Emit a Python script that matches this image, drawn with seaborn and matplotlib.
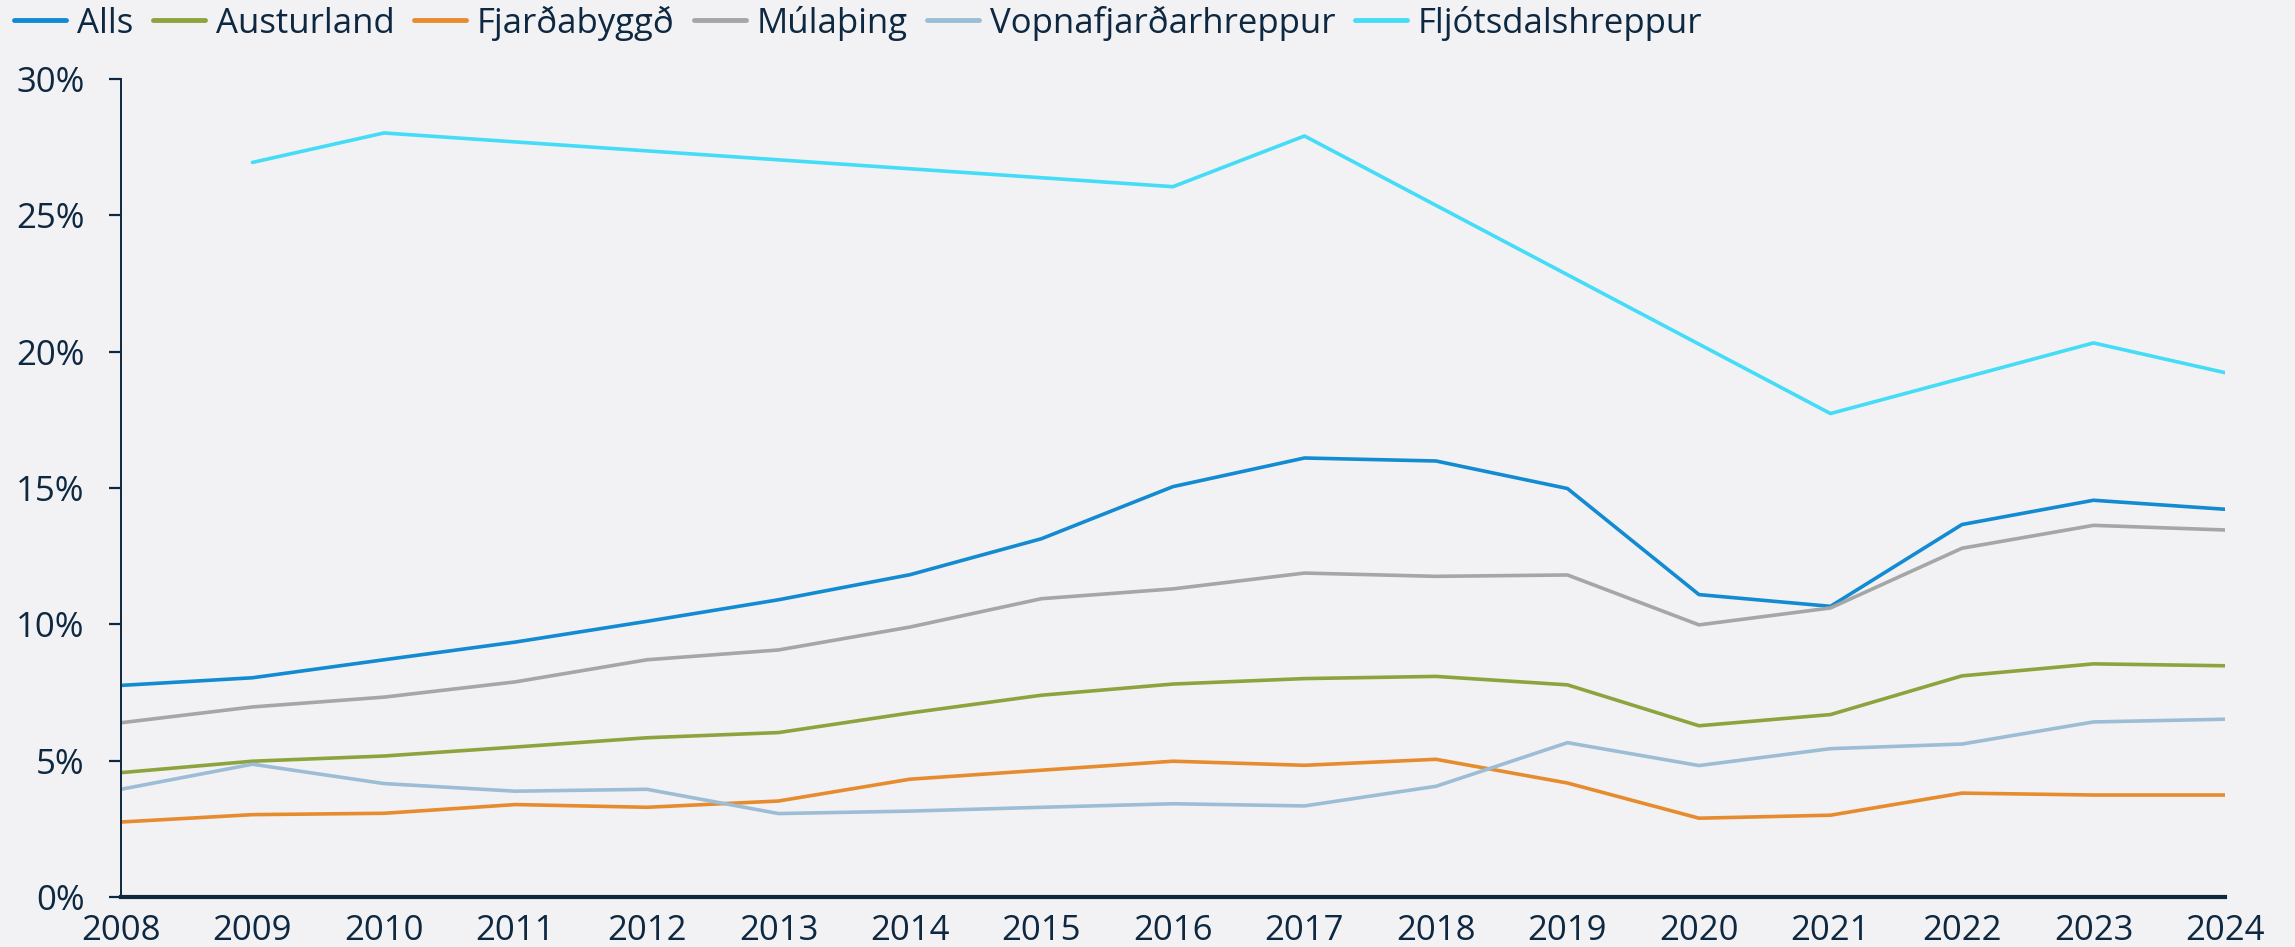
import matplotlib
matplotlib.use("Agg")

import numpy as np
import pandas as pd
import matplotlib.pyplot as plt
import matplotlib.ticker as mticker
import seaborn as sns

# gögn lesin af myndinni (hlutfall, %)
years = list(range(2008, 2025))
alls = [7.76, 8.04, 8.70, 9.35, 10.11, 10.90, 11.82, 13.14, 15.05,
        16.10, 15.99, 14.98, 11.09, 10.66, 13.66, 14.55, 14.22]
austurland = [4.56, 4.98, 5.17, 5.50, 5.84, 6.03, 6.75, 7.40, 7.81,
              8.01, 8.09, 7.78, 6.28, 6.69, 8.11, 8.55, 8.48]
fjardabyggd = [2.75, 3.02, 3.07, 3.39, 3.29, 3.52, 4.32, 4.65, 4.98,
               4.83, 5.05, 4.18, 2.89, 3.00, 3.81, 3.74, 3.74]
mulathing = [6.39, 6.97, 7.33, 7.89, 8.70, 9.06, 9.90, 10.94, 11.30,
             11.88, 11.76, 11.81, 9.98, 10.60, 12.79, 13.63, 13.46]
vopnafjordur = [3.95, 4.87, 4.16, 3.88, 3.95, 3.06, 3.15, 3.29, 3.42,
                3.34, 4.06, 5.66, 4.82, 5.44, 5.61, 6.42, 6.52]
nan = np.nan
fljotsdalur = [nan, 26.94, 28.02, nan, nan, nan, nan, nan, 26.05,
               27.91, nan, nan, nan, 17.73, nan, 20.32, 19.23]

series = {
    "Alls": alls,
    "Austurland": austurland,
    "Fjarðabyggð": fjardabyggd,
    "Múlaþing": mulathing,
    "Vopnafjarðarhreppur": vopnafjordur,
    "Fljótsdalshreppur": fljotsdalur,
}
colors = {
    "Alls": "#138BD2",
    "Austurland": "#8DA43E",
    "Fjarðabyggð": "#E78B2F",
    "Múlaþing": "#A6A6A6",
    "Vopnafjarðarhreppur": "#9DBDD6",
    "Fljótsdalshreppur": "#44DCF7",
}

BG = "#F2F2F4"
TXT = "#0E2841"
FS = 25

sns.set_theme(style="white")
plt.rcParams.update({
    "font.family": ["Open Sans", "DejaVu Sans"],
    "text.color": TXT,
    "axes.labelcolor": TXT,
    "xtick.color": TXT,
    "ytick.color": TXT,
})

rows = []
for name, vals in series.items():
    for y, v in zip(years, vals):
        rows.append({"ar": y, "hlutfall": v / 100, "svaedi": name})
df = pd.DataFrame(rows).dropna()  # tengja línu yfir eyður

fig = plt.figure(figsize=(22.95, 9.47), dpi=100, facecolor=BG)
ax = fig.add_axes([0.0527, 0.0528, 0.9168, 0.8638])
ax.set_facecolor(BG)

sns.lineplot(data=df, x="ar", y="hlutfall", hue="svaedi",
             hue_order=list(series.keys()), palette=colors,
             estimator=None, linewidth=2.6, ax=ax, legend=False)

ax.set_xlim(2008, 2024)
ax.set_ylim(0, 0.30)
ax.set_xticks(years)
ax.set_yticks(np.arange(0, 0.301, 0.05))
ax.yaxis.set_major_formatter(mticker.PercentFormatter(1.0, decimals=0))
ax.set_xlabel("")
ax.set_ylabel("")

for s in ["top", "right"]:
    ax.spines[s].set_visible(False)
ax.spines["left"].set_color(TXT)
ax.spines["left"].set_linewidth(1.4)
ax.spines["bottom"].set_color(TXT)
ax.spines["bottom"].set_linewidth(3)

ax.tick_params(axis="y", direction="out", length=9, width=1.6, pad=17,
               labelsize=FS, left=True)
ax.tick_params(axis="x", length=0, pad=12, labelsize=FS)

handles = [plt.Line2D([0], [0], color=colors[n], linewidth=3.5) for n in series]
fig.legend(handles, list(series.keys()), loc="center left",
           bbox_to_anchor=(14 / 2295, 1 - 23 / 947), ncol=6, frameon=False,
           fontsize=FS, handlelength=1.5, handletextpad=0.32,
           columnspacing=0.55, borderpad=0, borderaxespad=0)

fig.savefig("out.png", dpi=100, facecolor=BG)
